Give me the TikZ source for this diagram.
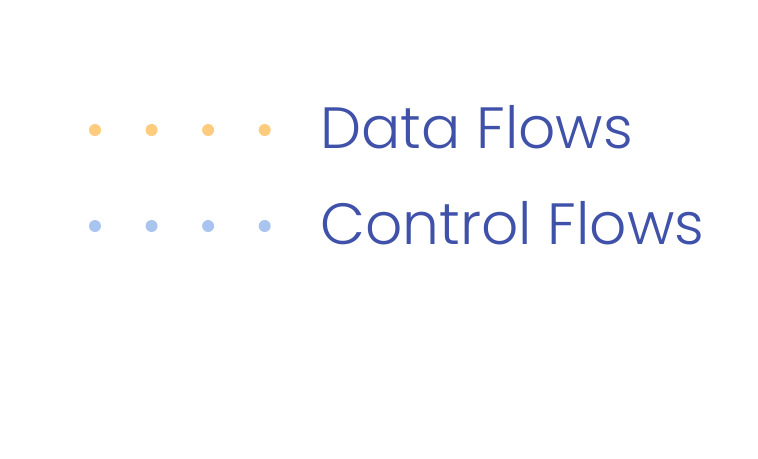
\documentclass[tikz,border=0pt]{standalone}
\usepackage{fontspec}
\setmainfont{Poppins Light}
\usepackage{tikz}
\usetikzlibrary{positioning}

\definecolor{dataorange}{HTML}{FFCB7D}
\definecolor{ctrlblue}{HTML}{A9C4EE}
\definecolor{legendtext}{HTML}{3F51A8}

\begin{document}
\begin{tikzpicture}[
            datadot/.style={circle, fill=dataorange, inner sep=0pt, minimum size=0.3cm},
            ctrldot/.style={circle, fill=ctrlblue, inner sep=0pt, minimum size=0.3cm},
            legendlabel/.style={anchor=base west, inner sep=0pt, text=legendtext, font=\fontsize{41.4pt}{50pt}\selectfont}
        ]

        % Rahmen
        \useasboundingbox (0,0) rectangle (18.95,-11.45);

        % Datenfluss
        \node[datadot] (d1) at (2.375,-3.25) {};
        \node[datadot, right=1.1cm of d1] (d2) {};
        \node[datadot, right=1.1cm of d2] (d3) {};
        \node[datadot, right=1.1cm of d3] (d4) {};
        \node[legendlabel] (datalabel) at (8.0,-3.72) {Data Flows};

        % Kontrollfluss
        \node[ctrldot] (c1) at (2.375,-5.65) {};
        \node[ctrldot, right=1.1cm of c1] (c2) {};
        \node[ctrldot, right=1.1cm of c2] (c3) {};
        \node[ctrldot, right=1.1cm of c3] (c4) {};
        \node[legendlabel] (ctrllabel) at (8.0,-6.12) {Control Flows};

    \end{tikzpicture}
\end{document}
